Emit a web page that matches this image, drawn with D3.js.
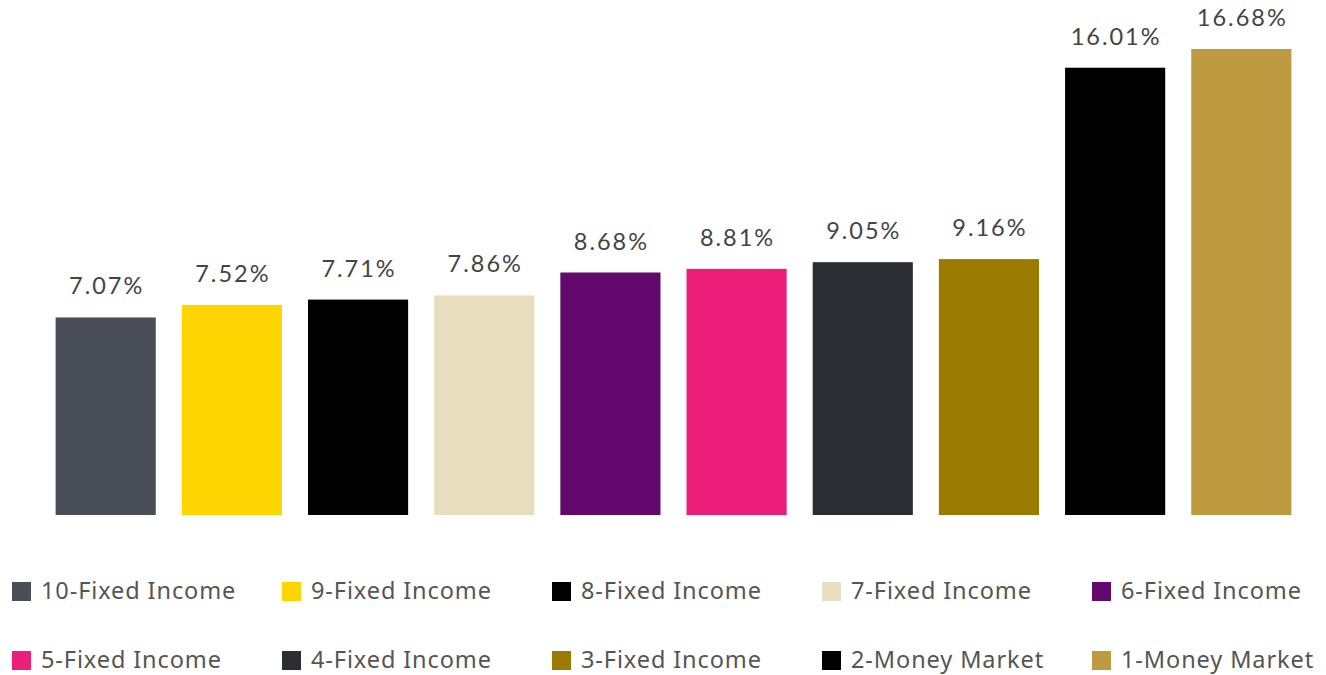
<!DOCTYPE html>
<html>
<head>
<meta charset="utf-8">
<script src="https://cdn.jsdelivr.net/npm/d3@7"></script>
<style>
  body { margin: 0; background: #fff; }
  svg { display: block; }
</style>
</head>
<body>
<svg id="chart"></svg>
<script>
const width = 1326;
const height = 675;

// data
const categories = [
  '10-Fixed Income', '9-Fixed Income', '8-Fixed Income', '7-Fixed Income', '6-Fixed Income',
  '5-Fixed Income', '4-Fixed Income', '3-Fixed Income', '2-Money Market', '1-Money Market'
];
const values = [7.07, 7.52, 7.71, 7.86, 8.68, 8.81, 9.05, 9.16, 16.01, 16.68];
const colors = [
  '#4a4e57', '#ffd500', '#000000', '#e8ddbd', '#63086d',
  '#ed1e79', '#2b2e33', '#9a7b00', '#000000', '#be9a40'
];

const svg = d3.select('#chart')
  .attr('width', width)
  .attr('height', height);

// scales
const x = d3.scaleBand()
  .domain(categories)
  .range([43, 1304])
  .paddingInner(26 / 126)
  .paddingOuter(0.1);

const y = d3.scaleLinear()
  .domain([0, 16.68])
  .range([515, 49]);

const color = d3.scaleOrdinal().domain(categories).range(colors);

// bars
svg.append('g')
  .selectAll('rect')
  .data(categories)
  .enter()
  .append('rect')
    .attr('x', d => x(d))
    .attr('y', (d, i) => y(values[i]))
    .attr('width', x.bandwidth())
    .attr('height', (d, i) => y(0) - y(values[i]))
    .attr('fill', d => color(d));

// value labels
svg.append('g')
  .selectAll('text')
  .data(categories)
  .enter()
  .append('text')
    .attr('x', d => x(d) + x.bandwidth() / 2 + 1)
    .attr('y', (d, i) => y(values[i]) - 23)
    .attr('text-anchor', 'middle')
    .style('font-family', 'Lato, "Open Sans", sans-serif')
    .style('font-size', '23.5px')
    .style('letter-spacing', '2px')
    .attr('fill', '#444')
    .text((d, i) => values[i].toFixed(2) + '%');

// legend, 5 per row
const legend = svg.append('g')
  .selectAll('g')
  .data(categories)
  .enter()
  .append('g')
    .attr('transform', (d, i) => `translate(${12 + (i % 5) * 270}, ${582 + Math.floor(i / 5) * 69})`);

legend.append('rect')
  .attr('width', 19)
  .attr('height', 19)
  .attr('fill', d => color(d));

legend.append('text')
  .attr('x', 29)
  .attr('y', 17)
  .style('font-family', '"Noto Sans", "Open Sans", sans-serif')
  .style('font-size', '23.5px')
  .style('letter-spacing', '0.9px')
  .attr('fill', '#555')
  .text(d => d);
</script>
</body>
</html>
